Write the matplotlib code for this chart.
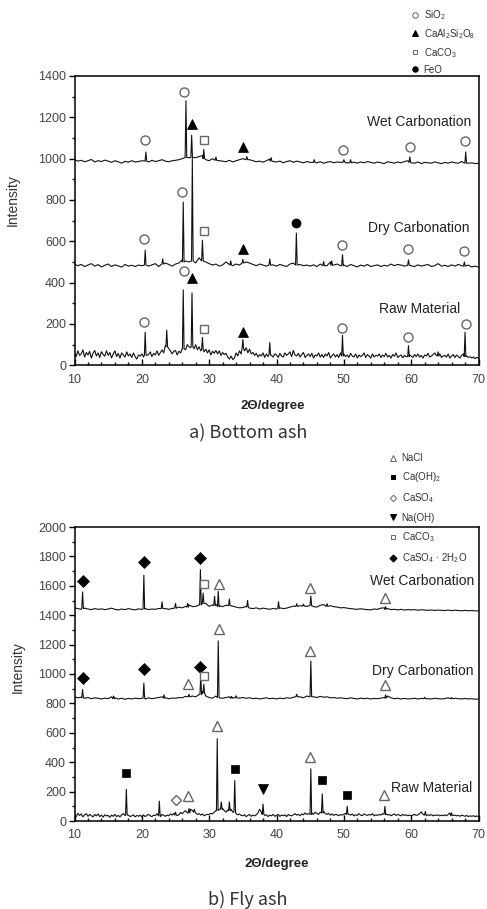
import numpy as np
import matplotlib
matplotlib.use('Agg')
import matplotlib.pyplot as plt
from matplotlib.lines import Line2D
from matplotlib.ticker import MultipleLocator

plt.rcParams['font.family'] = ['Liberation Sans', 'DejaVu Sans']
plt.rcParams['mathtext.default'] = 'regular'

# ---------------- data ----------------
# sampling grids of the baseline values (2-theta, degrees)
two_theta = np.arange(10, 70.001, 0.5)
two_theta_fine = np.arange(10, 70.001, 0.25)

# ---- a) Bottom ash ----
ba_raw_base = [60, 42, 70, 48, 55, 75, 40, 62, 50, 68, 35, 58, 72, 45, 60, 38, 66, 52, 44, 70,
               48, 62, 36, 55, 70, 42, 58, 35, 60, 50, 40, 65, 45, 55, 38, 60, 42, 30, 50, 45,
               55, 40, 60, 48, 52, 65, 42, 58, 50, 70, 48, 62, 75, 60, 95, 110, 80, 70, 55, 68,
               72, 50, 68, 60, 80, 65, 75, 100, 90, 85, 95, 80, 100, 75, 90, 70, 85, 65, 78, 60,
               75, 50, 68, 58, 72, 55, 70, 48, 62, 52, 58, 40, 30, 45, 28, 35, 60, 45, 70, 55,
               95, 70, 85, 60, 78, 55, 62, 48, 58, 40, 52, 45, 60, 38, 55, 42, 62, 48, 40, 55,
               50, 38, 58, 45, 40, 60, 48, 55, 65, 42, 72, 50, 45, 58, 40, 52, 62, 38, 48, 55,
               42, 58, 35, 50, 45, 60, 40, 52, 38, 55, 45, 62, 35, 48, 55, 40, 52, 38, 60, 45,
               55, 42, 50, 38, 58, 45, 40, 55, 35, 50, 42, 48, 60, 38, 52, 45, 35, 55, 40, 48,
               45, 55, 38, 50, 42, 58, 40, 48, 35, 52, 44, 60, 38, 45, 50, 36, 48, 42, 55, 50,
               45, 38, 52, 42, 55, 40, 48, 35, 50, 45, 58, 40, 45, 52, 60, 48, 42, 55, 38, 45,
               48, 40, 55, 35, 45, 52, 38, 50, 42, 35, 48, 55, 40, 45, 38, 42, 35, 40, 32, 38,
               35]
ba_raw_peaks = [(20.5, 160, 50), (23.7, 170, 90), (26.15, 365, 80), (27.45, 350, 90),
                (29.0, 135, 75), (35.0, 125, 80), (39.0, 110, 50), (49.8, 145, 45),
                (59.6, 95, 42), (64.0, 65, 45), (68.0, 160, 42)]

ba_dry_base = [490, 482, 488, 478, 485, 492, 480, 487, 476, 484,
               490, 478, 486, 481, 475, 488, 480, 484, 478, 485,
               482, 490, 480, 486, 492, 478, 505, 495, 488, 480,
               490, 495, 510, 505, 500, 510, 495, 520, 510, 500,
               492, 485, 490, 480, 486, 500, 488, 482, 490, 485,
               505, 500, 495, 488, 482, 490, 485, 480, 492, 486,
               480, 488, 483, 478, 490, 495, 480, 488, 482, 485,
               480, 486, 478, 490, 484, 482, 500, 485, 490, 482,
               485, 478, 488, 482, 476, 485, 480, 488, 478, 482,
               486, 478, 484, 480, 490, 482, 488, 485, 480, 490,
               482, 478, 486, 480, 484, 488, 478, 482, 492, 480,
               484, 478, 486, 480, 488, 482, 478, 485, 476, 480, 475]
ba_dry_peaks = [(20.5, 557, 485), (23.1, 515, 490), (26.15, 790, 500), (27.5, 1000, 505),
                (29.0, 605, 505), (33.2, 505, 485), (35.0, 512, 495), (39.0, 515, 485),
                (42.95, 640, 485), (47.0, 502, 482), (48.2, 505, 484), (49.8, 535, 482),
                (59.6, 510, 484), (67.9, 500, 480)]

ba_wet_base = [995, 988, 992, 985, 990, 996, 984, 990, 986, 993,
               988, 982, 990, 985, 978, 987, 983, 990, 984, 986,
               990, 988, 984, 992, 986, 990, 995, 988, 985, 990,
               992, 995, 1000, 1010, 1005, 1000, 1005, 1010, 1015, 995,
               990, 1000, 995, 990, 988, 985, 992, 984, 990, 995,
               1000, 1005, 995, 990, 985, 988, 983, 990, 998, 986,
               984, 988, 980, 986, 990, 982, 988, 984, 980, 986,
               982, 988, 980, 985, 978, 983, 986, 980, 984, 982,
               985, 980, 992, 983, 978, 984, 980, 986, 982, 978,
               984, 980, 976, 985, 982, 978, 984, 980, 986, 990,
               980, 978, 984, 976, 982, 980, 978, 984, 980, 976,
               982, 978, 984, 980, 978, 986, 984, 978, 980, 976, 978]
ba_wet_peaks = [(20.6, 1032, 988), (26.55, 1280, 1005), (27.4, 1113, 1005), (29.2, 1044, 1000),
                (31.0, 1008, 992), (35.6, 1010, 995), (39.2, 1005, 988), (45.6, 995, 982),
                (50.0, 995, 983), (51.0, 995, 980), (59.8, 1008, 982), (68.1, 1032, 978)]

# phase markers: (phase, 2theta, intensity)
ba_wet_marks = [('SiO2', 20.5, 1088), ('SiO2', 26.3, 1322), ('CaAl2Si2O8', 27.5, 1166),
                ('CaCO3', 29.2, 1089), ('CaAl2Si2O8', 35.0, 1057), ('SiO2', 49.9, 1044),
                ('SiO2', 59.8, 1057), ('SiO2', 68.0, 1084)]
ba_dry_marks = [('SiO2', 20.3, 609), ('SiO2', 26.0, 839), ('CaCO3', 29.2, 651),
                ('CaAl2Si2O8', 35.0, 565), ('FeO', 42.9, 688), ('SiO2', 49.7, 581),
                ('SiO2', 59.5, 565), ('SiO2', 67.9, 554)]
ba_raw_marks = [('SiO2', 20.3, 211), ('SiO2', 26.2, 458), ('CaAl2Si2O8', 27.5, 421),
                ('CaCO3', 29.2, 177), ('CaAl2Si2O8', 35.0, 163), ('SiO2', 49.7, 182),
                ('SiO2', 59.6, 138), ('SiO2', 68.1, 200)]

# ---- b) Fly ash ----
fa_raw_base = [45, 30, 52, 38, 48, 28, 42, 50, 32, 45, 36, 28, 44, 35, 48, 30, 40, 26, 42, 35,
               38, 25, 40, 32, 45, 30, 38, 28, 42, 50, 38, 32, 40, 30, 35, 42, 28, 38, 32, 40,
               28, 42, 30, 38, 45, 35, 30, 40, 36, 50, 42, 30, 45, 38, 32, 40, 35, 48, 40, 52,
               45, 38, 42, 58, 50, 62, 70, 55, 65, 80, 72, 60, 55, 45, 50, 40, 48, 35, 42, 45,
               45, 52, 48, 60, 70, 65, 80, 100, 85, 70, 60, 75, 90, 80, 60, 70, 50, 42, 48, 38,
               36, 42, 30, 38, 45, 32, 40, 35, 42, 55, 80, 60, 45, 38, 42, 30, 40, 35, 45, 32,
               38, 45, 32, 40, 36, 42, 30, 44, 38, 35, 42, 50, 40, 45, 36, 48, 42, 55, 45, 50,
               48, 55, 45, 60, 50, 45, 60, 90, 65, 50, 45, 52, 40, 48, 38, 45, 42, 36, 44, 40,
               45, 52, 60, 45, 40, 48, 35, 42, 38, 50, 40, 36, 48, 42, 38, 45, 40, 50, 35, 42,
               38, 45, 40, 50, 62, 48, 40, 45, 36, 42, 48, 38, 44, 40, 35, 45, 38, 42, 36, 40,
               35, 40, 45, 38, 42, 50, 62, 45, 40, 36, 42, 38, 44, 35, 40, 38, 42, 35, 40, 36,
               42, 36, 45, 55, 48, 38, 40, 35, 38, 32, 40, 36, 32, 38, 30, 35, 32, 36, 30, 34,
               30]
fa_raw_peaks = [(17.7, 215, 40), (22.6, 135, 35), (25.0, 60, 40), (27.0, 85, 55),
                (27.8, 80, 60), (31.2, 560, 70), (31.8, 130, 80), (33.0, 130, 70),
                (33.8, 275, 60), (38.0, 115, 45), (45.1, 355, 45), (46.8, 185, 55),
                (50.5, 100, 45), (56.1, 100, 45), (62.1, 65, 40), (66.0, 55, 36)]

fa_dry_base = [845, 838, 842, 835, 840, 832, 838, 835, 830, 836,
               832, 845, 838, 830, 835, 828, 834, 830, 836, 832,
               835, 830, 838, 832, 836, 840, 845, 838, 832, 836,
               835, 840, 838, 848, 845, 850, 845, 860, 880, 850,
               840, 835, 850, 838, 835, 840, 845, 838, 842, 836,
               840, 835, 838, 832, 836, 830, 834, 838, 832, 835,
               830, 836, 832, 838, 835, 842, 860, 845, 838, 850,
               850, 845, 840, 848, 842, 845, 838, 840, 835, 838,
               835, 832, 838, 834, 830, 836, 832, 835, 830, 834,
               832, 836, 840, 850, 838, 832, 835, 830, 834, 830,
               832, 835, 830, 834, 838, 832, 830, 835, 832, 830,
               833, 838, 830, 835, 832, 830, 834, 830, 832, 828, 830]
fa_dry_peaks = [(11.2, 895, 838), (15.8, 850, 832), (20.3, 938, 835), (23.3, 858, 836),
                (27.0, 862, 845), (28.75, 990, 860), (29.2, 930, 870), (31.35, 1225, 840),
                (33.3, 848, 835), (34.0, 852, 838), (43.0, 862, 845), (45.1, 1088, 845),
                (56.2, 858, 836), (62.0, 842, 832), (66.0, 840, 832)]

fa_wet_base = [1450, 1445, 1440, 1448, 1442, 1438, 1445, 1440, 1443, 1438,
               1442, 1448, 1440, 1436, 1442, 1438, 1445, 1440, 1436, 1443,
               1440, 1445, 1438, 1442, 1440, 1446, 1450, 1445, 1440, 1446,
               1448, 1455, 1450, 1460, 1470, 1458, 1460, 1470, 1500, 1480,
               1460, 1470, 1475, 1465, 1458, 1468, 1475, 1462, 1455, 1450,
               1452, 1460, 1448, 1445, 1450, 1442, 1448, 1444, 1440, 1446,
               1442, 1450, 1445, 1448, 1455, 1462, 1470, 1465, 1468, 1460,
               1470, 1458, 1455, 1468, 1472, 1460, 1465, 1458, 1455, 1450,
               1452, 1448, 1445, 1442, 1440, 1444, 1440, 1438, 1436, 1442,
               1440, 1448, 1450, 1445, 1438, 1440, 1436, 1440, 1435, 1438,
               1436, 1438, 1434, 1437, 1435, 1433, 1436, 1432, 1435, 1433,
               1432, 1435, 1431, 1434, 1432, 1430, 1433, 1430, 1432, 1429, 1430]
fa_wet_peaks = [(11.2, 1558, 1445), (20.3, 1672, 1442), (23.0, 1490, 1445), (25.0, 1480, 1448),
                (26.8, 1480, 1455), (28.7, 1710, 1470), (29.1, 1550, 1480), (30.8, 1530, 1465),
                (31.35, 1562, 1460), (33.0, 1510, 1465), (35.7, 1500, 1455), (40.3, 1492, 1445),
                (43.0, 1478, 1460), (44.0, 1475, 1462), (45.1, 1530, 1465), (47.5, 1478, 1460),
                (56.2, 1458, 1440)]

fa_wet_marks = [('CaSO4·2H2O', 11.3, 1636), ('CaSO4·2H2O', 20.3, 1764), ('CaSO4·2H2O', 28.7, 1791),
                ('CaCO3', 29.3, 1609), ('NaCl', 31.4, 1614), ('NaCl', 45.0, 1586),
                ('NaCl', 56.1, 1518)]
fa_dry_marks = [('CaSO4·2H2O', 11.3, 973), ('CaSO4·2H2O', 20.3, 1034), ('NaCl', 26.8, 934),
                ('CaSO4·2H2O', 28.7, 1048), ('CaCO3', 29.3, 984), ('NaCl', 31.4, 1307),
                ('NaCl', 45.0, 1155), ('NaCl', 56.1, 927)]
fa_raw_marks = [('Ca(OH)2', 17.6, 325), ('CaSO4', 25.0, 143), ('NaCl', 26.9, 172),
                ('NaCl', 31.2, 648), ('Ca(OH)2', 33.8, 352), ('Na(OH)', 38.0, 216),
                ('NaCl', 45.0, 434), ('Ca(OH)2', 46.8, 280), ('Ca(OH)2', 50.5, 177),
                ('NaCl', 56.0, 177)]

# series labels (text, 2theta, intensity)
ba_labels = [('Wet Carbonation', 61.2, 1175), ('Dry Carbonation', 61.2, 663),
             ('Raw Material', 61.2, 272)]
fa_labels = [('Wet Carbonation', 61.7, 1636), ('Dry Carbonation', 61.7, 1023),
             ('Raw Material', 63.1, 223)]

ba_legend = ['SiO2', 'CaAl2Si2O8', 'CaCO3', 'FeO']
fa_legend = ['NaCl', 'Ca(OH)2', 'CaSO4', 'Na(OH)', 'CaCO3', 'CaSO4·2H2O']

legend_text = {'SiO2': 'SiO$_2$', 'CaAl2Si2O8': 'CaAl$_2$Si$_2$O$_8$', 'CaCO3': 'CaCO$_3$',
               'FeO': 'FeO', 'NaCl': 'NaCl', 'Ca(OH)2': 'Ca(OH)$_2$', 'CaSO4': 'CaSO$_4$',
               'Na(OH)': 'Na(OH)', 'CaSO4·2H2O': 'CaSO$_4$ · 2H$_2$O'}

# ---------------- styles ----------------
GRAY = '#666666'
phase_style = {
    'SiO2': dict(marker='o', mfc='white', mec=GRAY, ms=6.5, mew=1.0),
    'CaAl2Si2O8': dict(marker='^', mfc='black', mec='black', ms=6.5, mew=0.5),
    'CaCO3': dict(marker='s', mfc='white', mec=GRAY, ms=6, mew=1.0),
    'FeO': dict(marker='o', mfc='black', mec='black', ms=6.5, mew=0.5),
    'NaCl': dict(marker='^', mfc='white', mec=GRAY, ms=6.5, mew=1.0),
    'Ca(OH)2': dict(marker='s', mfc='black', mec='black', ms=6, mew=0.5),
    'CaSO4': dict(marker='D', mfc='white', mec=GRAY, ms=5.5, mew=1.0),
    'Na(OH)': dict(marker='v', mfc='black', mec='black', ms=6.5, mew=0.5),
    'CaSO4·2H2O': dict(marker='D', mfc='black', mec='black', ms=6, mew=0.5),
}
HALF = 0.12


def trace(grid, base, peaks):
    xs = np.asarray(grid, float)
    ys = np.asarray(base, float)
    keep = np.ones(len(xs), bool)
    for p, _, _ in peaks:
        keep &= np.abs(xs - p) > HALF
    X = list(xs[keep])
    Y = list(ys[keep])
    for p, top, foot in peaks:
        X += [p - HALF, p, p + HALF]
        Y += [foot, top, foot]
    order = np.argsort(X, kind='stable')
    return np.array(X)[order], np.array(Y)[order]


W, H = 487, 909
fig = plt.figure(figsize=(W / 100, H / 100), dpi=100)


def setup(ax, ymax):
    ax.set_xlim(10, 70)
    ax.set_ylim(0, ymax)
    ax.xaxis.set_major_locator(MultipleLocator(10))
    ax.xaxis.set_minor_locator(MultipleLocator(2))
    ax.yaxis.set_major_locator(MultipleLocator(200))
    ax.yaxis.set_minor_locator(MultipleLocator(100))
    ax.tick_params(axis='x', which='major', direction='in', length=4, width=1,
                   labelsize=9, labelcolor='#444444', pad=6)
    ax.tick_params(axis='x', which='minor', direction='in', length=2.5, width=1)
    ax.tick_params(axis='y', which='major', direction='out', length=4, width=1,
                   labelsize=9, labelcolor='#444444', pad=2)
    ax.tick_params(axis='y', which='minor', direction='out', length=2.5, width=1)
    for s in ax.spines.values():
        s.set_linewidth(1.1)
    ax.set_xlabel('2Θ/degree', fontsize=9.5, color='#222222', fontweight='bold')
    ax.set_ylabel('Intensity', fontsize=10, color='#333333')


def draw(ax, series, marks, labels, lab_fs):
    for grid, base, peaks in series:
        x, y = trace(grid, base, peaks)
        ax.plot(x, y, color='#111111', lw=0.8)
    for mlist in marks:
        for ph, x, y in mlist:
            ax.plot([x], [y], linestyle='none', **phase_style[ph])
    for txt, x, y in labels:
        ax.text(x, y, txt, ha='center', va='center', fontsize=lab_fs, color='#222222')


def legend(ax, names, anchor, spacing):
    handles = []
    for n in names:
        st = dict(phase_style[n])
        st['ms'] = st['ms'] * 0.6
        st['mew'] = 0.7
        handles.append(Line2D([], [], linestyle='none', **st))
    ax.legend(handles, [legend_text[n] for n in names], loc='upper left',
              bbox_to_anchor=anchor, bbox_transform=fig.transFigure,
              frameon=False, fontsize=7, handlelength=0.8, handletextpad=0.5,
              labelspacing=spacing, borderpad=0, borderaxespad=0,
              labelcolor='#333333')


L, R = 74.5, 478.5
ax1 = fig.add_axes([L / W, 1 - 365.3 / H, (R - L) / W, 289.3 / H])
setup(ax1, 1400)
draw(ax1, [(two_theta_fine, ba_raw_base, ba_raw_peaks), (two_theta, ba_dry_base, ba_dry_peaks),
           (two_theta, ba_wet_base, ba_wet_peaks)],
     [ba_wet_marks, ba_dry_marks, ba_raw_marks], ba_labels, 10)
ax1.yaxis.set_label_coords(-0.135, 0.571)
ax1.xaxis.set_label_coords(0.49, -0.12)
legend(ax1, ba_legend, (411 / W, 1 - 8 / H), 0.52)

ax2 = fig.add_axes([L / W, 1 - 821 / H, (R - L) / W, 294 / H])
setup(ax2, 2000)
draw(ax2, [(two_theta_fine, fa_raw_base, fa_raw_peaks), (two_theta, fa_dry_base, fa_dry_peaks),
           (two_theta, fa_wet_base, fa_wet_peaks)],
     [fa_wet_marks, fa_dry_marks, fa_raw_marks], fa_labels, 10)
ax2.yaxis.set_label_coords(-0.122, 0.524)
ax2.xaxis.set_label_coords(0.5, -0.126)
legend(ax2, fa_legend, (389 / W, 1 - 453 / H), 0.75)

cap_font = ['Noto Sans CJK KR', 'DejaVu Sans']
fig.text(248 / W, 1 - 433 / H, 'a) Bottom ash', ha='center', va='center', fontsize=13,
         family=cap_font, fontweight='light', color='#333333')
fig.text(248 / W, 1 - 900 / H, 'b) Fly ash', ha='center', va='center', fontsize=13,
         family=cap_font, fontweight='light', color='#333333')

fig.savefig('out.png', dpi=100)
